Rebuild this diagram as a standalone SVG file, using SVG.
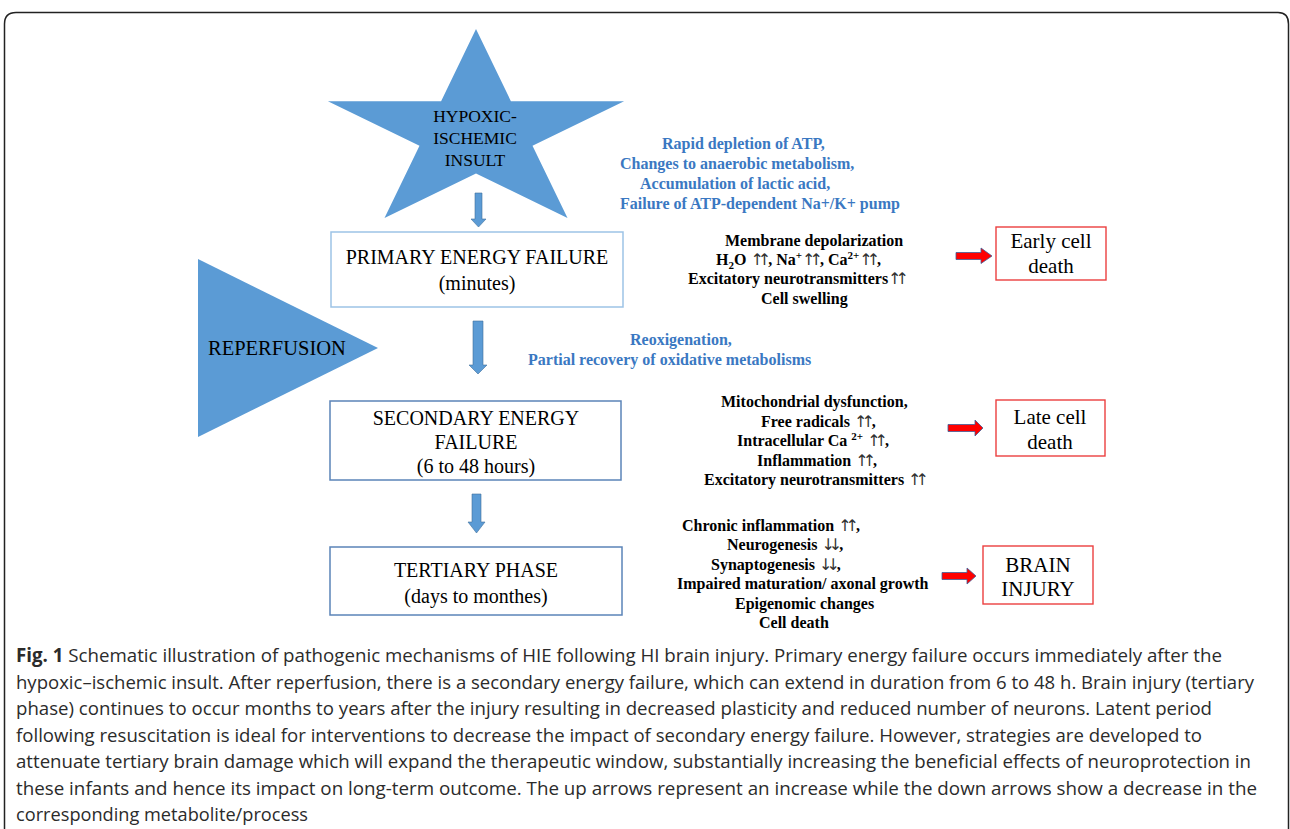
<svg xmlns="http://www.w3.org/2000/svg" width="1290" height="829" viewBox="0 0 1290 829">
<style>
.serif{font-family:"Liberation Serif","Times New Roman",serif;}
.node{fill:#000;font-size:20px;text-anchor:middle;}
.blue{fill:#3A78C2;font-weight:bold;font-size:16px;}
.blk{fill:#000;font-weight:bold;font-size:16px;}
.ar{font-family:"DejaVu Sans",sans-serif;font-weight:normal;fill:#333;font-size:16px;}
.a1{letter-spacing:-6px;}
.a2{letter-spacing:-3px;}
.sm{font-size:11px;}
.shape{fill:#5B9BD5;}
.barrow{fill:#5B9BD5;stroke:#41719C;stroke-width:0.6;}
.rarrow{fill:#FF0000;stroke:#3E5F9A;stroke-width:0.8;}
.bbox{fill:#fff;stroke:#5B84B8;stroke-width:1.5;}
.bbox2{fill:#fff;stroke:#9DC3E6;stroke-width:1.5;}
.rbox{fill:#fff;stroke:#EC3F3F;stroke-width:1.4;}
.cap{font-family:"Open Sans","Noto Sans","Liberation Sans",sans-serif;font-size:19px;fill:#2b2b2b;}
</style>
<rect width="1290" height="829" fill="#fff"/>
<path d="M4.5,829 V24 Q4.5,12.5 16,12.5 H1278 Q1288.5,12.5 1288.5,24 V829" fill="none" stroke="#222" stroke-width="1.5"/>

<g id="insult">
<polygon class="shape" points="476,29 510.9,101.2 624.1,101.2 532.5,145.8 567.5,218 476,173.4 384.5,218 419.5,145.8 327.9,101.2 441.1,101.2"/>
<text class="serif node" style="font-size:17.5px" x="475" y="122">HYPOXIC-</text>
<text class="serif node" style="font-size:17.5px" x="475" y="144">ISCHEMIC</text>
<text class="serif node" style="font-size:17.5px" x="475" y="166">INSULT</text>
</g>

<g id="reperfusion">
<polygon class="shape" points="198,259 378,348 198,437"/>
<text class="serif" x="208" y="355" font-size="20.5" fill="#000">REPERFUSION</text>
</g>

<g id="primary">
<rect class="bbox2" x="331" y="232" width="292" height="75"/>
<text class="serif node" x="477" y="264">PRIMARY ENERGY FAILURE</text>
<text class="serif node" x="477" y="290">(minutes)</text>
</g>

<g id="secondary">
<rect class="bbox" x="330" y="401" width="291" height="79"/>
<text class="serif node" x="476" y="425">SECONDARY ENERGY</text>
<text class="serif node" x="476" y="449">FAILURE</text>
<text class="serif node" x="476" y="473">(6 to 48 hours)</text>
</g>

<g id="tertiary">
<rect class="bbox" x="330" y="547" width="292" height="68"/>
<text class="serif node" x="476" y="577">TERTIARY PHASE</text>
<text class="serif node" x="476" y="603">(days to monthes)</text>
</g>

<g id="early">
<rect class="rbox" x="996" y="227" width="110" height="53"/>
<text class="serif node" style="font-size:21px" x="1051" y="248">Early cell</text>
<text class="serif node" style="font-size:21px" x="1051" y="273">death</text>
</g>

<g id="late">
<rect class="rbox" x="996" y="400" width="109" height="56"/>
<text class="serif node" style="font-size:21px" x="1050" y="424">Late cell</text>
<text class="serif node" style="font-size:21px" x="1050" y="449">death</text>
</g>

<g id="brain">
<rect class="rbox" x="983" y="546" width="110" height="58"/>
<text class="serif node" style="font-size:21px" x="1038" y="572">BRAIN</text>
<text class="serif node" style="font-size:21px" x="1038" y="596">INJURY</text>
</g>

<g id="text-primary-mech" class="serif">
<text class="blue" x="662" y="149">Rapid depletion of ATP,</text>
<text class="blue" x="620" y="169">Changes to anaerobic metabolism,</text>
<text class="blue" x="640" y="189">Accumulation of lactic acid,</text>
<text class="blue" x="620" y="209">Failure of ATP-dependent Na+/K+ pump</text>
</g>

<g id="text-primary-eff" class="serif">
<text class="blk" x="725" y="246">Membrane depolarization</text>
<text class="blk" x="716" y="265">H<tspan class="sm" dy="4">2</tspan><tspan dy="-4">O </tspan><tspan class="ar a1">↑</tspan><tspan class="ar a2">↑</tspan>, Na<tspan class="sm" dy="-6">+</tspan><tspan class="ar a1" dy="6">↑</tspan><tspan class="ar a2">↑</tspan>, Ca<tspan class="sm" dy="-6">2+</tspan><tspan class="ar a1" dy="6">↑</tspan><tspan class="ar a2">↑</tspan>,</text>
<text class="blk" x="688" y="284">Excitatory neurotransmitters<tspan class="ar a1">↑</tspan><tspan class="ar a2">↑</tspan></text>
<text class="blk" x="761" y="304">Cell swelling</text>
</g>

<g id="text-reperf" class="serif">
<text class="blue" x="630" y="345">Reoxigenation,</text>
<text class="blue" x="528" y="365">Partial recovery of oxidative metabolisms</text>
</g>

<g id="text-secondary" class="serif">
<text class="blk" x="721" y="407">Mitochondrial dysfunction,</text>
<text class="blk" x="761" y="427">Free radicals <tspan class="ar a1">↑</tspan><tspan class="ar a2">↑</tspan>,</text>
<text class="blk" x="737" y="446">Intracellular Ca <tspan class="sm" dy="-6">2+</tspan><tspan dy="6"> </tspan><tspan class="ar a1">↑</tspan><tspan class="ar a2">↑</tspan>,</text>
<text class="blk" x="757" y="466">Inflammation <tspan class="ar a1">↑</tspan><tspan class="ar a2">↑</tspan>,</text>
<text class="blk" x="704" y="485">Excitatory neurotransmitters <tspan class="ar a1">↑</tspan><tspan class="ar a2">↑</tspan></text>
</g>

<g id="text-tertiary" class="serif">
<text class="blk" x="682" y="531">Chronic inflammation <tspan class="ar a1">↑</tspan><tspan class="ar a2">↑</tspan>,</text>
<text class="blk" x="727" y="550">Neurogenesis <tspan class="ar a1">↓</tspan><tspan class="ar a2">↓</tspan>,</text>
<text class="blk" x="711" y="570">Synaptogenesis <tspan class="ar a1">↓</tspan><tspan class="ar a2">↓</tspan>,</text>
<text class="blk" x="677" y="589">Impaired maturation/ axonal growth</text>
<text class="blk" x="735" y="609">Epigenomic changes</text>
<text class="blk" x="759" y="628">Cell death</text>
</g>

<g id="connectors">
<polygon class="barrow" points="475,193 482,193 482,219 486,219 478.5,227 471,219 475,219"/>
<polygon class="barrow" points="473,321 483,321 483,365 487,365 478,374 469,365 473,365"/>
<polygon class="barrow" points="472,494 481,494 481,522 485,522 476.5,533 468,522 472,522"/>
<polygon class="rarrow" points="956,252.5 981,252.5 981,248 992,256 981,263.5 981,259.5 956,259.5"/>
<polygon class="rarrow" points="948,424.5 975,424.5 975,420 983,428 975,436 975,431.5 948,431.5"/>
<polygon class="rarrow" points="942,572.5 967,572.5 967,568 976,576 967,584 967,579.5 942,579.5"/>
</g>

<g id="caption" class="cap">
<text x="16" y="662" textLength="1206" lengthAdjust="spacingAndGlyphs"><tspan font-weight="bold">Fig. 1</tspan> Schematic illustration of pathogenic mechanisms of HIE following HI brain injury. Primary energy failure occurs immediately after the</text>
<text x="16" y="688.5" textLength="1238" lengthAdjust="spacingAndGlyphs">hypoxic–ischemic insult. After reperfusion, there is a secondary energy failure, which can extend in duration from 6 to 48 h. Brain injury (tertiary</text>
<text x="16" y="715" textLength="1196" lengthAdjust="spacingAndGlyphs">phase) continues to occur months to years after the injury resulting in decreased plasticity and reduced number of neurons. Latent period</text>
<text x="16" y="741.5" textLength="1186" lengthAdjust="spacingAndGlyphs">following resuscitation is ideal for interventions to decrease the impact of secondary energy failure. However, strategies are developed to</text>
<text x="16" y="768" textLength="1235" lengthAdjust="spacingAndGlyphs">attenuate tertiary brain damage which will expand the therapeutic window, substantially increasing the beneficial effects of neuroprotection in</text>
<text x="16" y="794.5" textLength="1241" lengthAdjust="spacingAndGlyphs">these infants and hence its impact on long-term outcome. The up arrows represent an increase while the down arrows show a decrease in the</text>
<text x="16" y="821" textLength="292" lengthAdjust="spacingAndGlyphs">corresponding metabolite/process</text>
</g>
</svg>
